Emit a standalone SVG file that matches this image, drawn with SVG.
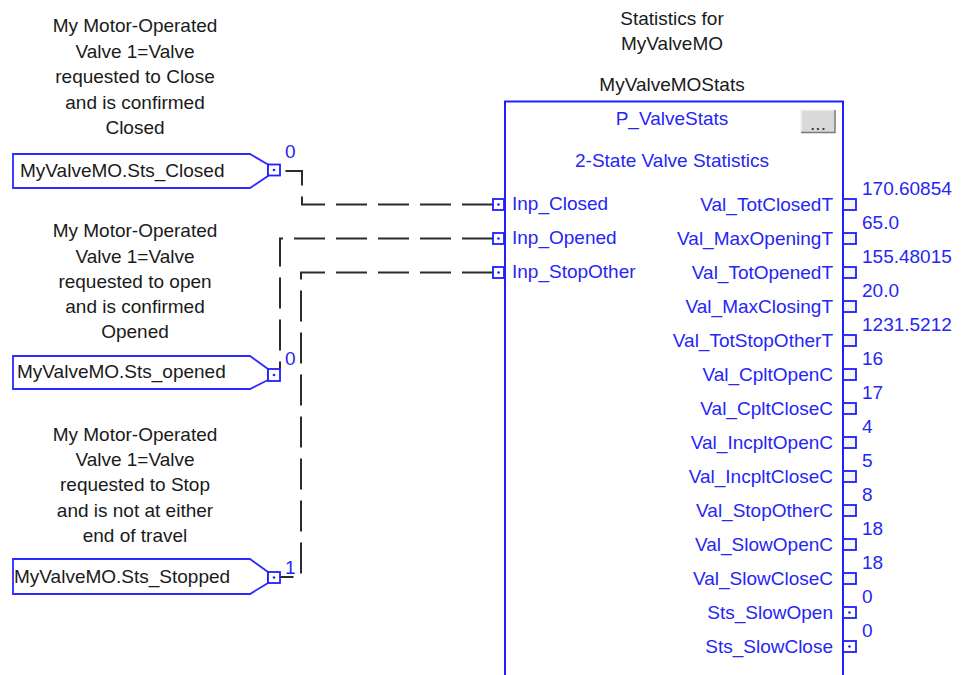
<svg xmlns="http://www.w3.org/2000/svg" width="963" height="675" viewBox="0 0 963 675">
<style>
text{font-family:"Liberation Sans",Arial,sans-serif;font-size:19px}
.k{fill:#1a1a1a}
.b{fill:#2626f5}
.c{text-anchor:middle}
.r{text-anchor:end}
.ln{fill:none;stroke:#1f1fff;stroke-width:2}
.tag{fill:#fff;stroke:#2a2aff;stroke-width:1.8}
.pin{fill:#fff;stroke:#1f1fff;stroke-width:1.8}
.opin{fill:#f4f4f4;stroke:#1f1fff;stroke-width:1.8}
.dot{fill:#1f1fff}
.wire{fill:none;stroke:#2b2b2b;stroke-width:2;stroke-dasharray:31 11}
</style>
<rect width="963" height="675" fill="#fff"/>

<g id="desc-closed" class="k c">
<text x="135" y="32">My Motor-Operated</text>
<text x="135" y="58">Valve 1=Valve</text>
<text x="135" y="83">requested to Close</text>
<text x="135" y="109">and is confirmed</text>
<text x="135" y="134">Closed</text>
</g>
<g id="desc-opened" class="k c">
<text x="135" y="237">My Motor-Operated</text>
<text x="135" y="263">Valve 1=Valve</text>
<text x="135" y="288">requested to open</text>
<text x="135" y="313">and is confirmed</text>
<text x="135" y="338">Opened</text>
</g>
<g id="desc-stopped" class="k c">
<text x="135" y="441">My Motor-Operated</text>
<text x="135" y="466">Valve 1=Valve</text>
<text x="135" y="491">requested to Stop</text>
<text x="135" y="517">and is not at either</text>
<text x="135" y="542">end of travel</text>
</g>

<g id="connectors">
<path class="wire" d="M493,204.5 H302 V171 H281"/>
<path class="wire" d="M493,238.5 H280 V369"/>
<path class="wire" d="M493,272.5 H301 V577 H280"/>
</g>

<g id="tag-closed">
<polygon class="tag" points="13,154 250,154 268,164.5 268,176 250,188 13,188"/>
<rect class="pin" x="268" y="164.5" width="12" height="11"/>
<circle class="dot" cx="274" cy="170" r="1.3"/>
<text class="k" x="20" y="177">MyValveMO.Sts_Closed</text>
<text class="b" x="285" y="158">0</text>
</g>
<g id="tag-opened">
<polygon class="tag" points="13,356 250,356 268,369 268,380 250,389 13,389"/>
<rect class="pin" x="268" y="369" width="12" height="12"/>
<circle class="dot" cx="274" cy="375" r="1.3"/>
<text class="k" x="17" y="378">MyValveMO.Sts_opened</text>
<text class="b" x="285" y="365">0</text>
</g>
<g id="tag-stopped">
<polygon class="tag" points="13,559 250,559 268,572 268,583 250,594 13,594"/>
<rect class="pin" x="268" y="572" width="12" height="11"/>
<circle class="dot" cx="274" cy="577.5" r="1.3"/>
<text class="k" x="14" y="583">MyValveMO.Sts_Stopped</text>
<text class="b" x="285" y="574">1</text>
</g>

<g id="block">
<text class="k c" x="672" y="25">Statistics for</text>
<text class="k c" x="672" y="50">MyValveMO</text>
<text class="k c" x="672" y="91">MyValveMOStats</text>
<rect x="505" y="101.5" width="338" height="620" fill="#fff" stroke="#1f1fff" stroke-width="2"/>
<text class="b c" x="672" y="125">P_ValveStats</text>
<text class="b c" x="672" y="167">2-State Valve Statistics</text>
<rect x="801" y="110" width="34" height="23" fill="#d9d9d9"/>
<path d="M801,133 V110 H835" fill="none" stroke="#f4f4f4" stroke-width="1.5"/>
<path d="M801,132.5 H835 V110" fill="none" stroke="#7a7a7a" stroke-width="1.5"/>
<text x="818" y="130" font-size="12" fill="#333" text-anchor="middle">...</text>

<rect class="pin" x="493" y="199" width="11" height="11"/><circle class="dot" cx="498.5" cy="204.5" r="1.3"/>
<rect class="pin" x="493" y="233" width="11" height="11"/><circle class="dot" cx="498.5" cy="238.5" r="1.3"/>
<rect class="pin" x="493" y="267" width="11" height="11"/><circle class="dot" cx="498.5" cy="272.5" r="1.3"/>
<text class="b" x="512" y="210">Inp_Closed</text>
<text class="b" x="512" y="244">Inp_Opened</text>
<text class="b" x="512" y="278">Inp_StopOther</text>

<g class="b r">
<text x="833" y="210.5">Val_TotClosedT</text>
<text x="833" y="244.5">Val_MaxOpeningT</text>
<text x="833" y="278.5">Val_TotOpenedT</text>
<text x="833" y="312.5">Val_MaxClosingT</text>
<text x="833" y="346.5">Val_TotStopOtherT</text>
<text x="833" y="380.5">Val_CpltOpenC</text>
<text x="833" y="414.5">Val_CpltCloseC</text>
<text x="833" y="448.5">Val_IncpltOpenC</text>
<text x="833" y="482.5">Val_IncpltCloseC</text>
<text x="833" y="516.5">Val_StopOtherC</text>
<text x="833" y="550.5">Val_SlowOpenC</text>
<text x="833" y="584.5">Val_SlowCloseC</text>
<text x="833" y="618.5">Sts_SlowOpen</text>
<text x="833" y="652.5">Sts_SlowClose</text>
</g>
<g class="b">
<text x="862" y="194.5">170.60854</text>
<text x="862" y="228.5">65.0</text>
<text x="862" y="262.5">155.48015</text>
<text x="862" y="296.5">20.0</text>
<text x="862" y="330.5">1231.5212</text>
<text x="862" y="364.5">16</text>
<text x="862" y="398.5">17</text>
<text x="862" y="432.5">4</text>
<text x="862" y="466.5">5</text>
<text x="862" y="500.5">8</text>
<text x="862" y="534.5">18</text>
<text x="862" y="568.5">18</text>
<text x="862" y="602.5">0</text>
<text x="862" y="636.5">0</text>
</g>
<g>
<rect class="opin" x="843" y="199" width="13" height="11"/>
<rect class="opin" x="843" y="233" width="13" height="11"/>
<rect class="opin" x="843" y="267" width="13" height="11"/>
<rect class="opin" x="843" y="301" width="13" height="11"/>
<rect class="opin" x="843" y="335" width="13" height="11"/>
<rect class="opin" x="843" y="369" width="13" height="11"/>
<rect class="opin" x="843" y="403" width="13" height="11"/>
<rect class="opin" x="843" y="437" width="13" height="11"/>
<rect class="opin" x="843" y="471" width="13" height="11"/>
<rect class="opin" x="843" y="505" width="13" height="11"/>
<rect class="opin" x="843" y="539" width="13" height="11"/>
<rect class="opin" x="843" y="573" width="13" height="11"/>
<rect class="pin" x="843" y="607" width="13" height="11"/><circle class="dot" cx="849.5" cy="612.5" r="1.3"/>
<rect class="pin" x="843" y="641" width="13" height="11"/><circle class="dot" cx="849.5" cy="646.5" r="1.3"/>
</g>
<line x1="843" y1="101.5" x2="843" y2="675" stroke="#1f1fff" stroke-width="2"/>
</g>
</svg>
